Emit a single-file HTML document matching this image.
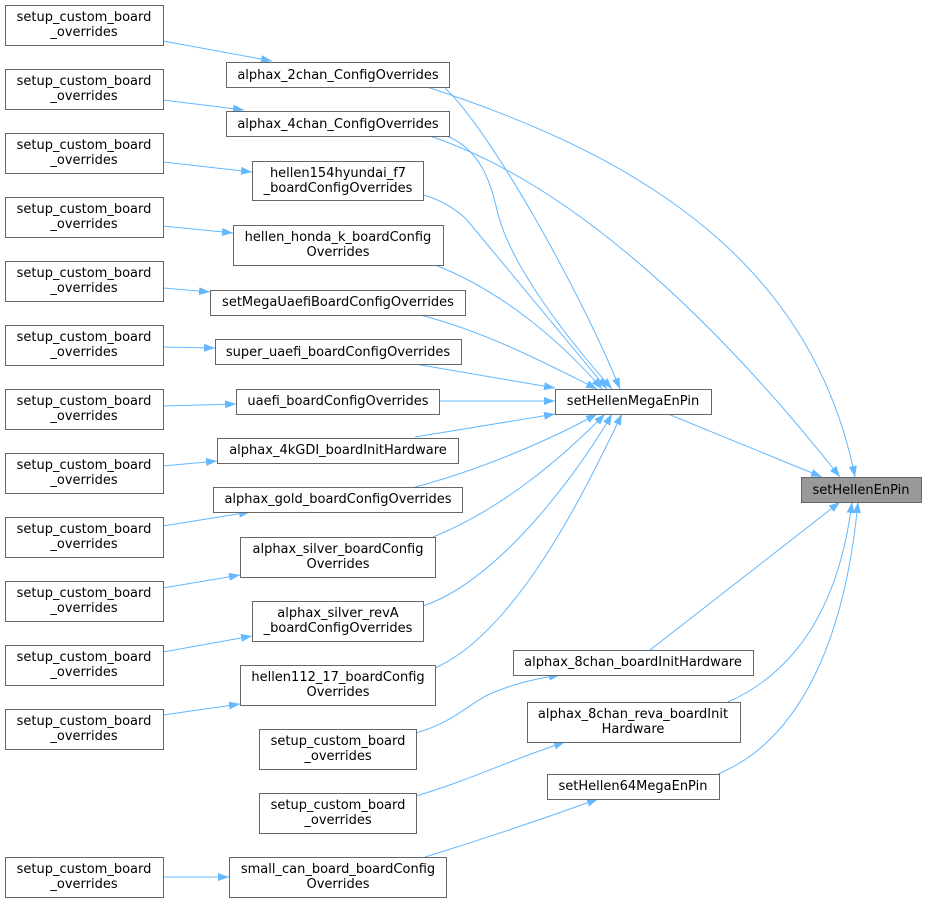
<!DOCTYPE html>
<html><head><meta charset="utf-8"><style>
html,body{margin:0;padding:0;background:#fff;}
svg{display:block;}
text{font-family:"DejaVu Sans","Liberation Sans",sans-serif;font-size:13px;fill:#000;}
.b{fill:#fff;stroke:#666;stroke-width:1;}
.e{fill:none;stroke:#63b8ff;stroke-width:1;}
</style></head><body>
<svg width="927" height="903" viewBox="0 0 927 903" xmlns="http://www.w3.org/2000/svg">
<defs><marker id="a" viewBox="0 0 11 8" refX="11" refY="4" markerWidth="11" markerHeight="8" markerUnits="userSpaceOnUse" orient="auto"><path d="M0,0 L11,4 L0,8 z" fill="#63b8ff"/></marker></defs>
<g marker-end="url(#a)">
<path class="e" d="M163,41 L272,61"/>
<path class="e" d="M163,100 L244,110"/>
<path class="e" d="M163,162 L252,172"/>
<path class="e" d="M163,226 L233,233"/>
<path class="e" d="M163,288 L210,292"/>
<path class="e" d="M163,347 L215,348"/>
<path class="e" d="M163,406 L236,404"/>
<path class="e" d="M163,466 L217,461"/>
<path class="e" d="M163,526 L250,512"/>
<path class="e" d="M163,588 L240,575"/>
<path class="e" d="M163,652 L252,636"/>
<path class="e" d="M163,715 L240,704"/>
<path class="e" d="M163,877 L229,877"/>
<path class="e" d="M445,88 C490,130 580,290 620,389"/>
<path class="e" d="M447,136 C480,150 490,180 497,210 C508,260 560,330 612,389"/>
<path class="e" d="M424,195 C440,200 455,208 467,220 L607,389"/>
<path class="e" d="M435,265 C500,290 560,340 602,389"/>
<path class="e" d="M420,315 C480,330 540,360 597,389"/>
<path class="e" d="M415,364 L555,388"/>
<path class="e" d="M440,401 L555,401"/>
<path class="e" d="M415,437 L555,414"/>
<path class="e" d="M415,487 C480,470 550,440 597,414"/>
<path class="e" d="M433,537 C500,510 560,460 605,414"/>
<path class="e" d="M423,606 C500,580 580,470 612,414"/>
<path class="e" d="M435,668 C520,630 590,480 622,414"/>
<path class="e" d="M668,414 L822,477"/>
<path class="e" d="M427,87 C620,150 810,250 855,477"/>
<path class="e" d="M430,136 C560,180 700,300 840,477"/>
<path class="e" d="M650,650 L840,502"/>
<path class="e" d="M728,702 C800,670 840,600 852,502"/>
<path class="e" d="M718,774 C800,740 845,640 858,502"/>
<path class="e" d="M416,733 C460,720 470,700 500,690 C520,682 540,678 560,675"/>
<path class="e" d="M416,796 C470,780 510,760 565,742"/>
<path class="e" d="M425,857 C480,840 540,820 598,799"/>
</g>
<g>
<rect class="b" x="5.5" y="5.5" width="158" height="40"/><text x="84" y="21" text-anchor="middle">setup_custom_board</text><text x="84" y="36" text-anchor="middle">_overrides</text>
<rect class="b" x="5.5" y="69.5" width="158" height="40"/><text x="84" y="85" text-anchor="middle">setup_custom_board</text><text x="84" y="100" text-anchor="middle">_overrides</text>
<rect class="b" x="5.5" y="133.5" width="158" height="40"/><text x="84" y="149" text-anchor="middle">setup_custom_board</text><text x="84" y="164" text-anchor="middle">_overrides</text>
<rect class="b" x="5.5" y="197.5" width="158" height="40"/><text x="84" y="213" text-anchor="middle">setup_custom_board</text><text x="84" y="228" text-anchor="middle">_overrides</text>
<rect class="b" x="5.5" y="261.5" width="158" height="40"/><text x="84" y="277" text-anchor="middle">setup_custom_board</text><text x="84" y="292" text-anchor="middle">_overrides</text>
<rect class="b" x="5.5" y="325.5" width="158" height="40"/><text x="84" y="341" text-anchor="middle">setup_custom_board</text><text x="84" y="356" text-anchor="middle">_overrides</text>
<rect class="b" x="5.5" y="389.5" width="158" height="40"/><text x="84" y="405" text-anchor="middle">setup_custom_board</text><text x="84" y="420" text-anchor="middle">_overrides</text>
<rect class="b" x="5.5" y="453.5" width="158" height="40"/><text x="84" y="469" text-anchor="middle">setup_custom_board</text><text x="84" y="484" text-anchor="middle">_overrides</text>
<rect class="b" x="5.5" y="517.5" width="158" height="40"/><text x="84" y="533" text-anchor="middle">setup_custom_board</text><text x="84" y="548" text-anchor="middle">_overrides</text>
<rect class="b" x="5.5" y="581.5" width="158" height="40"/><text x="84" y="597" text-anchor="middle">setup_custom_board</text><text x="84" y="612" text-anchor="middle">_overrides</text>
<rect class="b" x="5.5" y="645.5" width="158" height="40"/><text x="84" y="661" text-anchor="middle">setup_custom_board</text><text x="84" y="676" text-anchor="middle">_overrides</text>
<rect class="b" x="5.5" y="709.5" width="158" height="40"/><text x="84" y="725" text-anchor="middle">setup_custom_board</text><text x="84" y="740" text-anchor="middle">_overrides</text>
<rect class="b" x="5.5" y="857.5" width="158" height="40"/><text x="84" y="873" text-anchor="middle">setup_custom_board</text><text x="84" y="888" text-anchor="middle">_overrides</text>

<rect class="b" x="226.5" y="62.5" width="223" height="25"/><text x="338" y="79" text-anchor="middle">alphax_2chan_ConfigOverrides</text>
<rect class="b" x="226.5" y="111.5" width="223" height="25"/><text x="338" y="128" text-anchor="middle">alphax_4chan_ConfigOverrides</text>
<rect class="b" x="252.5" y="161.5" width="171" height="39"/><text x="338" y="177" text-anchor="middle">hellen154hyundai_f7</text><text x="338" y="192" text-anchor="middle">_boardConfigOverrides</text>
<rect class="b" x="233.5" y="225.5" width="210" height="40"/><text x="338" y="241" text-anchor="middle">hellen_honda_k_boardConfig</text><text x="338" y="256" text-anchor="middle">Overrides</text>
<rect class="b" x="210.5" y="290.5" width="255" height="25"/><text x="338" y="306" text-anchor="middle">setMegaUaefiBoardConfigOverrides</text>
<rect class="b" x="215.5" y="339.5" width="246" height="25"/><text x="338" y="356" text-anchor="middle">super_uaefi_boardConfigOverrides</text>
<rect class="b" x="236.5" y="389.5" width="203" height="25"/><text x="338" y="405" text-anchor="middle">uaefi_boardConfigOverrides</text>
<rect class="b" x="217.5" y="438.5" width="241" height="25"/><text x="338" y="454" text-anchor="middle">alphax_4kGDI_boardInitHardware</text>
<rect class="b" x="213.5" y="487.5" width="249" height="25"/><text x="338" y="503" text-anchor="middle">alphax_gold_boardConfigOverrides</text>
<rect class="b" x="240.5" y="537.5" width="195" height="40"/><text x="338" y="553" text-anchor="middle">alphax_silver_boardConfig</text><text x="338" y="568" text-anchor="middle">Overrides</text>
<rect class="b" x="252.5" y="601.5" width="171" height="40"/><text x="338" y="617" text-anchor="middle">alphax_silver_revA</text><text x="338" y="632" text-anchor="middle">_boardConfigOverrides</text>
<rect class="b" x="240.5" y="665.5" width="195" height="40"/><text x="338" y="681" text-anchor="middle">hellen112_17_boardConfig</text><text x="338" y="696" text-anchor="middle">Overrides</text>
<rect class="b" x="259.5" y="729.5" width="157" height="40"/><text x="338" y="745" text-anchor="middle">setup_custom_board</text><text x="338" y="760" text-anchor="middle">_overrides</text>
<rect class="b" x="259.5" y="793.5" width="157" height="40"/><text x="338" y="809" text-anchor="middle">setup_custom_board</text><text x="338" y="824" text-anchor="middle">_overrides</text>
<rect class="b" x="229.5" y="857.5" width="217" height="40"/><text x="338" y="873" text-anchor="middle">small_can_board_boardConfig</text><text x="338" y="888" text-anchor="middle">Overrides</text>

<rect class="b" x="555.5" y="389.5" width="156" height="25"/><text x="633" y="405" text-anchor="middle">setHellenMegaEnPin</text>
<rect class="b" x="513.5" y="650.5" width="240" height="25"/><text x="633" y="666" text-anchor="middle">alphax_8chan_boardInitHardware</text>
<rect class="b" x="527.5" y="702.5" width="213" height="40"/><text x="633" y="718" text-anchor="middle">alphax_8chan_reva_boardInit</text><text x="633" y="733" text-anchor="middle">Hardware</text>
<rect class="b" x="547.5" y="774.5" width="172" height="25"/><text x="633" y="790" text-anchor="middle">setHellen64MegaEnPin</text>
<rect x="801.5" y="477.5" width="120" height="25" fill="#999" stroke="#666"/><text x="861" y="494" text-anchor="middle">setHellenEnPin</text>
</g>
</svg>
</body></html>
